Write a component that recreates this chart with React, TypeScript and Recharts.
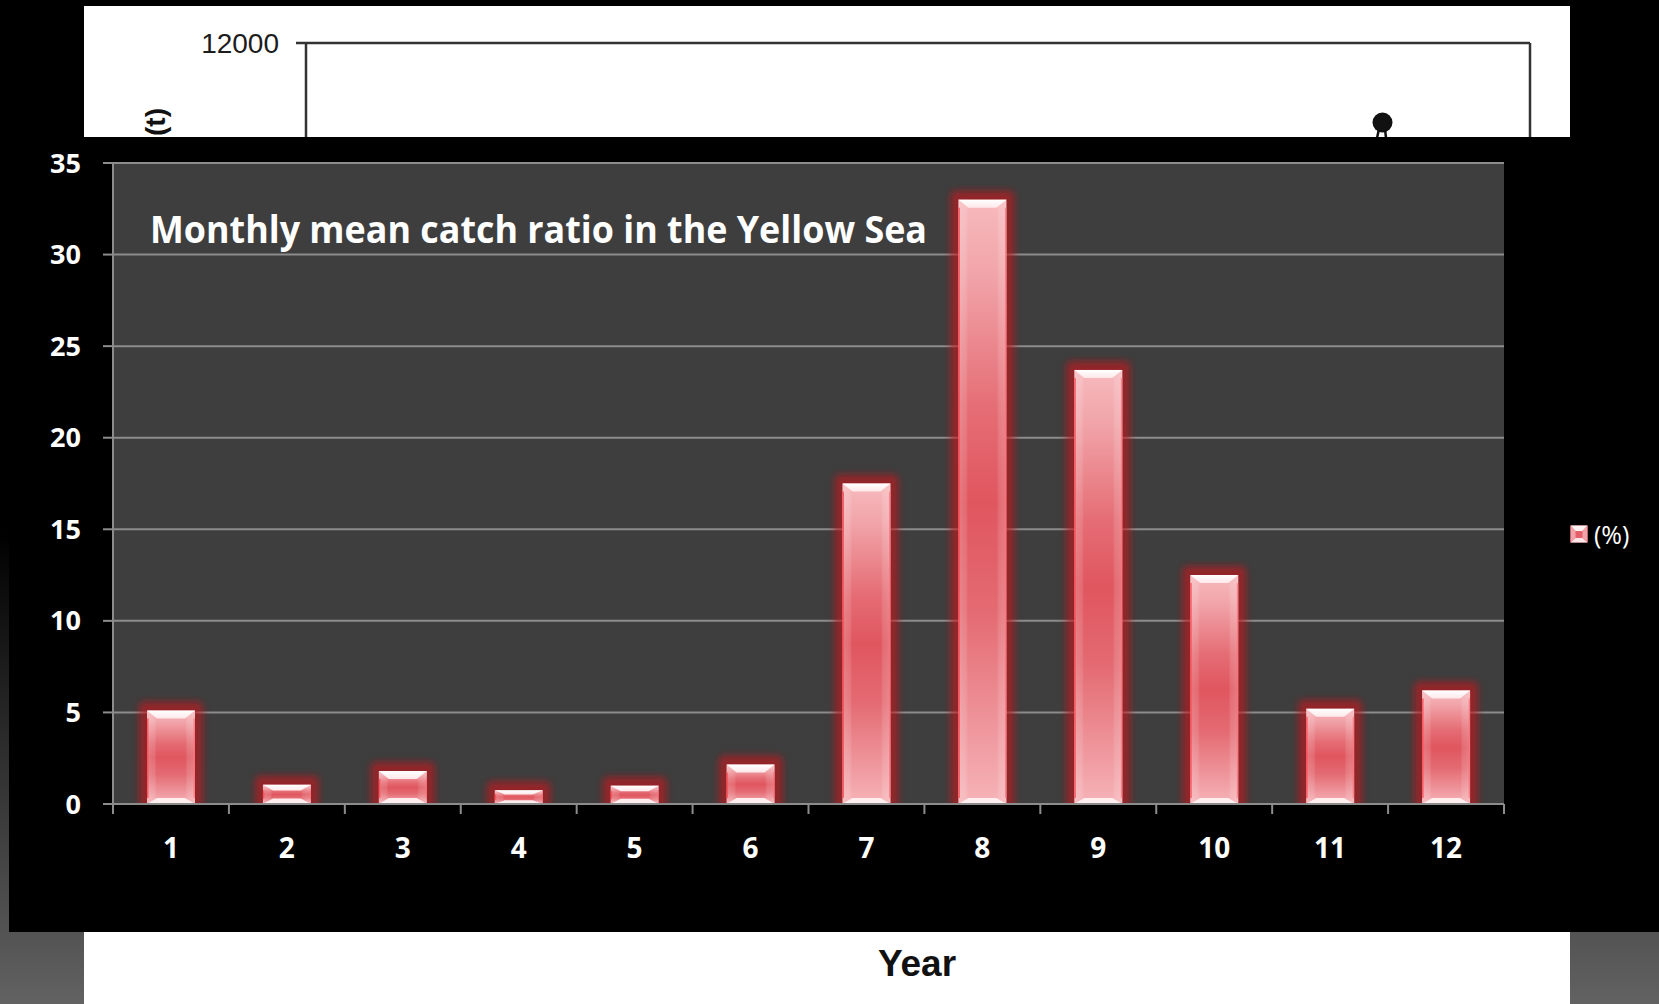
import React from 'react';
import { BarChart, Bar, XAxis, YAxis, CartesianGrid, Legend } from 'recharts';

const months = ['1', '2', '3', '4', '5', '6', '7', '8', '9', '10', '11', '12'];
const ratio = [5.1, 1.05, 1.8, 0.75, 1.0, 2.15, 17.5, 33.0, 23.7, 12.5, 5.2, 6.2];
const yTicks = [0, 5, 10, 15, 20, 25, 30, 35];
const seriesName = '(%)';
const titleText = 'Monthly mean catch ratio in the Yellow Sea';

const data = months.map((m, i) => ({ month: m, ratio: ratio[i] }));

const FONT = '"Open Sans", "Noto Sans", sans-serif';
const GRID = '#8c8c8c';

const GlassBar = (props: any) => {
  const { x, y, width: w, height: h } = props;
  if (!h || h <= 0) return null;
  const bt = Math.min(8, h * 0.3);
  const bb = Math.min(6, h * 0.28);
  const bs = Math.min(10, w * 0.22);
  return (
    <g>
      <svg x={x - 22} y={y - 22} width={w + 44} height={h + 22} overflow="hidden">
        <rect x={22 - 8} y={22 - 9} width={w + 16} height={h + 18} rx={5} fill="#c8141f" opacity={0.62} filter="url(#barGlow)" />
      </svg>
      <rect x={x} y={y} width={w} height={h} fill="url(#barV)" />
      <rect x={x} y={y} width={w} height={h} fill="url(#barH)" />
      <polygon
        points={`${x},${y} ${x + w},${y} ${x + w - bs},${y + bt} ${x + bs},${y + bt}`}
        fill="url(#bevelTop)"
      />
      <polygon
        points={`${x},${y + h} ${x + w},${y + h} ${x + w - bs},${y + h - bb} ${x + bs},${y + h - bb}`}
        fill="#fff2f2"
        opacity={0.95}
      />
      <line x1={x + 0.75} y1={y + bt} x2={x + 0.75} y2={y + h - bb} stroke="#ff4d55" strokeWidth={1.5} opacity={0.85} />
      <line x1={x + w - 0.75} y1={y + bt} x2={x + w - 0.75} y2={y + h - bb} stroke="#ff7078" strokeWidth={1.5} opacity={0.7} />
    </g>
  );
};

const XTick = (props: any) => {
  const { x, y, payload, index } = props;
  const off = payload && payload.offset ? payload.offset : 0;
  return (
    <g>
      {index === 0 && <line x1={x - off} y1={y - 10} x2={x - off} y2={y} stroke={GRID} strokeWidth={2} />}
      <line x1={x + off} y1={y - 10} x2={x + off} y2={y} stroke={GRID} strokeWidth={2} />
      <text x={x} y={y + 33} textAnchor="middle" dominantBaseline="central" fill="#ffffff" fontSize={28} fontWeight={700} fontFamily={FONT}>
        {payload.value}
      </text>
    </g>
  );
};

const LegendContent = (props: any) => {
  const items = props.payload || [];
  return (
    <div style={{ display: 'flex', flexDirection: 'column' }}>
      {items.map((it: any, i: number) => (
        <div key={i} style={{ display: 'flex', alignItems: 'center', height: 20 }}>
          <svg width={18} height={18} style={{ display: 'block' }}>
            <rect x={0.5} y={0.5} width={17} height={17} fill="#e4606a" />
            <polygon points="0.5,0.5 17.5,0.5 12.5,6 5.5,6" fill="#fff3f3" />
            <polygon points="0.5,17.5 17.5,17.5 12.5,13 5.5,13" fill="#ffe6e8" />
            <polygon points="0.5,0.5 5.5,6 5.5,13 0.5,17.5" fill="#f3a2a8" />
            <polygon points="17.5,0.5 12.5,6 12.5,13 17.5,17.5" fill="#f3a2a8" />
          </svg>
          <span style={{ color: '#ffffff', fontFamily: FONT, fontSize: 25, marginLeft: 6, lineHeight: '20px' }}>{it.value}</span>
        </div>
      ))}
    </div>
  );
};

export default function App() {
  return (
    <div style={{ position: 'absolute', left: 0, top: 0, width: 1659, height: 1004, overflow: 'hidden', fontFamily: FONT }}>
      <svg width={1659} height={1004} style={{ position: 'absolute', left: 0, top: 0 }}>
        <defs>
          <linearGradient id="pageBg" x1="0" y1="0" x2="0" y2="1004" gradientUnits="userSpaceOnUse">
            <stop offset="0" stopColor="#000000" />
            <stop offset="0.53" stopColor="#000000" />
            <stop offset="1" stopColor="#626262" />
          </linearGradient>
          <linearGradient id="barV" x1="0" y1="0" x2="0" y2="1">
            <stop offset="0" stopColor="#f7babd" />
            <stop offset="0.12" stopColor="#f1a5aa" />
            <stop offset="0.35" stopColor="#e56c74" />
            <stop offset="0.5" stopColor="#e0565f" />
            <stop offset="0.68" stopColor="#e46a72" />
            <stop offset="0.9" stopColor="#f09ca2" />
            <stop offset="1" stopColor="#f6b4b8" />
          </linearGradient>
          <linearGradient id="barH" x1="0" y1="0" x2="1" y2="0">
            <stop offset="0" stopColor="#ffffff" stopOpacity="0.2" />
            <stop offset="0.16" stopColor="#ffffff" stopOpacity="0.12" />
            <stop offset="0.2" stopColor="#ffffff" stopOpacity="0" />
            <stop offset="0.8" stopColor="#ffffff" stopOpacity="0" />
            <stop offset="0.84" stopColor="#ffffff" stopOpacity="0.12" />
            <stop offset="1" stopColor="#ffffff" stopOpacity="0.2" />
          </linearGradient>
          <linearGradient id="bevelTop" x1="0" y1="0" x2="0" y2="1">
            <stop offset="0" stopColor="#ffffff" />
            <stop offset="1" stopColor="#ffe8ea" />
          </linearGradient>
          <filter id="barGlow" x="-60%" y="-60%" width="220%" height="220%">
            <feGaussianBlur stdDeviation="3.5" />
          </filter>
        </defs>
        <rect x={0} y={0} width={1659} height={1004} fill="url(#pageBg)" />
        <rect x={84} y={6} width={1486} height={998} fill="#ffffff" />
        {/* remnants of the underlying slide chart */}
        <text x={279} y={43} textAnchor="end" dominantBaseline="central" fontFamily='"Liberation Sans", Arial, sans-serif' fontSize={28} fill="#1c1c1c">12000</text>
        <line x1={296} y1={43} x2={1530} y2={43} stroke="#333333" strokeWidth={2.5} />
        <line x1={306} y1={43} x2={306} y2={140} stroke="#333333" strokeWidth={2.5} />
        <line x1={1530} y1={43} x2={1530} y2={140} stroke="#333333" strokeWidth={2.5} />
        <text x={155} y={108} textAnchor="end" dominantBaseline="central" transform="rotate(-90 155 108)" fontFamily='"Liberation Sans", Arial, sans-serif' fontWeight={700} fontSize={28} fill="#111111">(t)</text>
        <circle cx={1382.5} cy={122.5} r={10} fill="#111111" />
        <line x1={1379} y1={129} x2={1377} y2={138} stroke="#111111" strokeWidth={2.5} />
        <line x1={1385} y1={129} x2={1386} y2={138} stroke="#111111" strokeWidth={2.5} />
        <text x={917} y={963} textAnchor="middle" dominantBaseline="central" fontFamily='"Liberation Sans", Arial, sans-serif' fontWeight={700} fontSize={37} fill="#111111">Year</text>
        <rect x={9} y={137} width={1650} height={795} fill="#000000" />
      </svg>

      <div style={{ position: 'absolute', left: 0, top: 137 }}>
        <BarChart width={1659} height={795} data={data} margin={{ top: 26, right: 155, bottom: 0, left: 0 }} barSize={48}>
          <CartesianGrid vertical={false} stroke={GRID} strokeWidth={2} fill="#3e3e3e" fillOpacity={1} />
          <XAxis
            dataKey="month"
            height={128}
            interval={0}
            tickLine={false}
            tickSize={10}
            tickMargin={0}
            axisLine={{ stroke: GRID, strokeWidth: 2 }}
            tick={<XTick />}
          />
          <YAxis
            width={113}
            domain={[0, 35]}
            ticks={yTicks}
            interval={0}
            tickSize={10}
            tickMargin={22}
            axisLine={{ stroke: GRID, strokeWidth: 2 }}
            tickLine={{ stroke: GRID, strokeWidth: 2 }}
            tick={{ fill: '#ffffff', fontSize: 27, fontWeight: 700, fontFamily: FONT }}
          />
          <Legend
            layout="horizontal"
            verticalAlign="middle"
            align="center"
            content={<LegendContent />}
            wrapperStyle={{ left: 1570, top: 387, width: 90, height: 20 }}
          />
          <Bar dataKey="ratio" name={seriesName} shape={<GlassBar />} isAnimationActive={false} />
        </BarChart>
      </div>

      <svg width={1659} height={1004} style={{ position: 'absolute', left: 0, top: 0, pointerEvents: 'none' }}>
        <text x={150} y={243} textLength={777} lengthAdjust="spacingAndGlyphs" fontFamily={FONT} fontWeight={700} fontSize={38} fill="#ffffff">
          {titleText}
        </text>
      </svg>
    </div>
  );
}
